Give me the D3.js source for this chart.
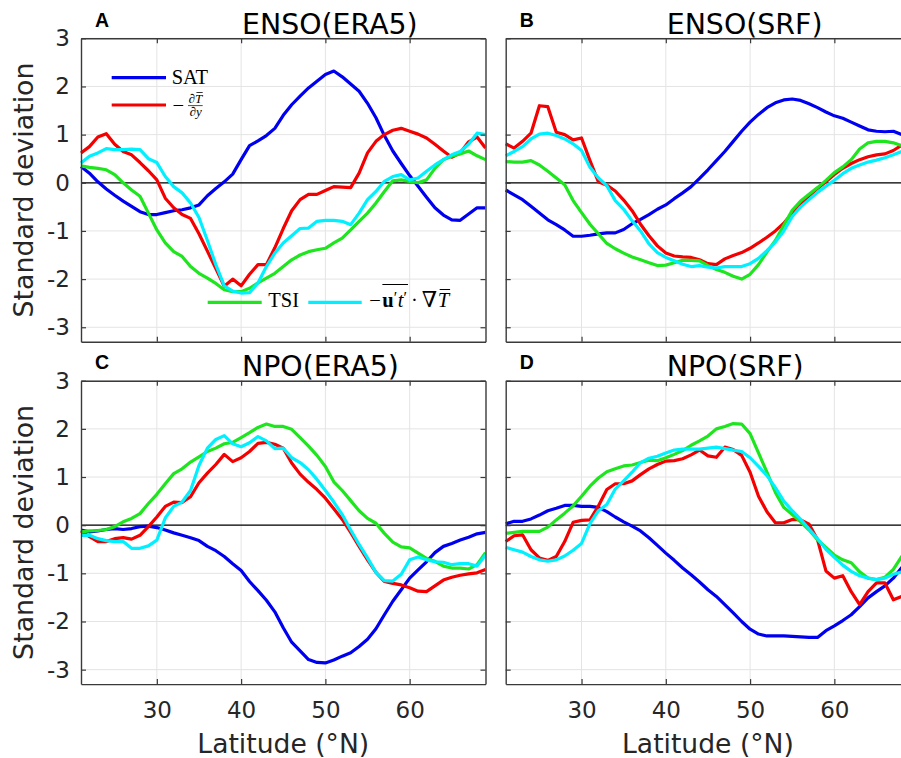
<!DOCTYPE html>
<html><head><meta charset="utf-8">
<script src="https://cdn.jsdelivr.net/npm/d3@7"></script>
<style>body{margin:0;background:#fff} svg{display:block}</style>
</head><body>
<svg id="chart" width="901" height="758"></svg>
<script>
// ---------- DATA ----------
const latitudes = [21,22,23,24,25,26,27,28,29,30,31,32,33,34,35,36,37,38,39,40,41,42,43,44,45,46,47,48,49,50,51,52,53,54,55,56,57,58,59,60,61,62,63,64,65,66,67,68,69];
const xTicks = [30,40,50,60];
const yTicks = [-3,-2,-1,0,1,2,3];
const seriesNames = ["SAT","-dT/dy","TSI","-u't'.gradT"];

// Panel A: ENSO(ERA5)
const ensoEra5SAT  = [0.34,0.2,0.02,-0.13,-0.26,-0.38,-0.49,-0.6,-0.66,-0.66,-0.62,-0.58,-0.56,-0.52,-0.46,-0.27,-0.12,0.02,0.18,0.48,0.77,0.87,0.98,1.13,1.4,1.62,1.8,1.97,2.11,2.25,2.32,2.2,2.05,1.9,1.65,1.35,0.98,0.66,0.4,0.15,-0.07,-0.3,-0.52,-0.67,-0.77,-0.78,-0.65,-0.52,-0.52];
const ensoEra5Grad = [0.62,0.75,0.95,1.02,0.8,0.65,0.58,0.42,0.25,0.06,-0.32,-0.52,-0.66,-0.74,-1.06,-1.42,-1.78,-2.15,-2.0,-2.14,-1.9,-1.7,-1.7,-1.35,-0.95,-0.58,-0.35,-0.24,-0.24,-0.16,-0.08,-0.09,-0.1,0.2,0.62,0.86,1.0,1.09,1.13,1.07,1.01,0.93,0.8,0.66,0.53,0.62,0.85,0.95,0.72];
const ensoEra5TSI  = [0.35,0.32,0.3,0.27,0.17,0.0,-0.15,-0.28,-0.63,-0.98,-1.25,-1.43,-1.53,-1.74,-1.88,-1.98,-2.09,-2.22,-2.26,-2.26,-2.19,-2.08,-1.98,-1.88,-1.74,-1.6,-1.5,-1.43,-1.39,-1.36,-1.25,-1.15,-0.98,-0.8,-0.63,-0.42,-0.18,0.04,0.06,0.03,0.0,0.06,0.3,0.48,0.55,0.6,0.66,0.56,0.48];
const ensoEra5Adv  = [0.41,0.55,0.62,0.71,0.69,0.69,0.7,0.69,0.5,0.42,0.13,-0.08,-0.21,-0.42,-0.72,-1.2,-1.7,-2.14,-2.25,-2.29,-2.28,-2.08,-1.74,-1.46,-1.25,-1.1,-0.95,-0.94,-0.8,-0.78,-0.78,-0.8,-0.87,-0.63,-0.35,-0.18,0.03,0.13,0.17,0.06,0.1,0.24,0.37,0.48,0.58,0.65,0.8,1.03,1.0];

// Panel B: ENSO(SRF)
const ensoSrfSAT  = [-0.15,-0.25,-0.35,-0.49,-0.63,-0.77,-0.87,-0.98,-1.11,-1.11,-1.09,-1.06,-1.04,-1.04,-0.97,-0.85,-0.76,-0.66,-0.55,-0.46,-0.33,-0.21,-0.08,0.09,0.27,0.46,0.65,0.86,1.07,1.26,1.42,1.56,1.66,1.72,1.74,1.71,1.64,1.56,1.47,1.39,1.34,1.26,1.18,1.1,1.07,1.06,1.07,1.0,0.98];
const ensoSrfGrad = [0.81,0.72,0.86,1.03,1.6,1.58,1.05,1.0,0.89,0.93,0.46,0.02,-0.05,-0.17,-0.36,-0.58,-0.86,-1.1,-1.31,-1.46,-1.52,-1.54,-1.55,-1.6,-1.68,-1.7,-1.58,-1.51,-1.45,-1.36,-1.25,-1.13,-1.0,-0.84,-0.63,-0.43,-0.27,-0.12,0.02,0.17,0.3,0.4,0.48,0.54,0.58,0.6,0.67,0.78,0.85];
const ensoSrfTSI  = [0.44,0.43,0.43,0.46,0.37,0.24,0.1,-0.04,-0.37,-0.62,-0.86,-1.06,-1.26,-1.37,-1.46,-1.54,-1.6,-1.66,-1.72,-1.71,-1.66,-1.61,-1.61,-1.62,-1.72,-1.8,-1.86,-1.94,-2.0,-1.9,-1.7,-1.44,-1.2,-0.88,-0.57,-0.38,-0.24,-0.1,0.05,0.21,0.33,0.48,0.7,0.83,0.86,0.86,0.83,0.77,0.7];
const ensoSrfAdv  = [0.56,0.65,0.75,0.91,1.01,1.03,0.98,0.91,0.81,0.67,0.32,0.1,-0.06,-0.37,-0.55,-0.79,-1.0,-1.27,-1.45,-1.55,-1.62,-1.69,-1.74,-1.72,-1.75,-1.77,-1.74,-1.74,-1.74,-1.68,-1.57,-1.41,-1.23,-1.0,-0.7,-0.5,-0.35,-0.2,-0.07,0.05,0.19,0.3,0.37,0.43,0.47,0.52,0.58,0.65,0.7];

// Panel C: NPO(ERA5)
const npoEra5SAT  = [-0.1,-0.14,-0.12,-0.09,-0.07,-0.09,-0.07,-0.03,-0.02,-0.05,-0.1,-0.16,-0.21,-0.26,-0.32,-0.44,-0.53,-0.65,-0.8,-0.94,-1.17,-1.36,-1.56,-1.8,-2.13,-2.43,-2.61,-2.79,-2.85,-2.86,-2.8,-2.72,-2.65,-2.52,-2.37,-2.15,-1.86,-1.58,-1.34,-1.1,-0.93,-0.76,-0.57,-0.44,-0.38,-0.31,-0.25,-0.18,-0.15];
const npoEra5Grad = [-0.12,-0.24,-0.34,-0.34,-0.28,-0.26,-0.29,-0.21,-0.03,0.17,0.39,0.48,0.47,0.59,0.88,1.08,1.26,1.47,1.32,1.4,1.53,1.7,1.72,1.68,1.6,1.29,1.06,0.89,0.74,0.56,0.34,0.12,-0.15,-0.44,-0.72,-0.98,-1.17,-1.21,-1.24,-1.3,-1.37,-1.38,-1.26,-1.14,-1.08,-1.04,-1.01,-0.99,-0.92];
const npoEra5TSI  = [-0.14,-0.12,-0.11,-0.09,-0.03,0.07,0.14,0.24,0.45,0.64,0.86,1.07,1.17,1.31,1.42,1.53,1.6,1.69,1.72,1.82,1.92,2.03,2.1,2.05,2.05,1.99,1.82,1.64,1.45,1.22,0.9,0.72,0.51,0.3,0.14,0.04,-0.17,-0.35,-0.45,-0.47,-0.58,-0.69,-0.75,-0.85,-0.89,-0.89,-0.91,-0.82,-0.57];
const npoEra5Adv  = [-0.21,-0.21,-0.28,-0.32,-0.34,-0.34,-0.48,-0.48,-0.43,-0.31,0.15,0.39,0.48,0.72,1.24,1.6,1.78,1.86,1.69,1.63,1.71,1.84,1.75,1.59,1.6,1.4,1.3,1.15,0.95,0.72,0.48,0.22,-0.1,-0.4,-0.68,-0.98,-1.15,-1.16,-1.02,-0.72,-0.66,-0.72,-0.76,-0.77,-0.82,-0.8,-0.8,-0.85,-0.62];

// Panel D: NPO(SRF)
const npoSrfSAT  = [0.03,0.08,0.08,0.13,0.21,0.3,0.35,0.41,0.41,0.39,0.39,0.37,0.28,0.17,0.07,-0.02,-0.12,-0.26,-0.42,-0.58,-0.73,-0.89,-1.03,-1.18,-1.34,-1.48,-1.65,-1.82,-2.0,-2.16,-2.26,-2.3,-2.3,-2.3,-2.31,-2.32,-2.33,-2.33,-2.19,-2.09,-1.98,-1.86,-1.69,-1.51,-1.38,-1.26,-1.1,-0.88,-0.72];
const npoSrfGrad = [-0.34,-0.22,-0.2,-0.51,-0.68,-0.73,-0.65,-0.34,0.06,0.1,0.11,0.4,0.74,0.86,0.86,0.92,1.05,1.17,1.26,1.33,1.34,1.38,1.46,1.56,1.44,1.41,1.62,1.57,1.45,1.1,0.6,0.28,0.05,0.05,0.12,0.11,0.02,-0.3,-0.95,-1.1,-1.05,-1.38,-1.65,-1.38,-1.2,-1.2,-1.55,-1.48,-1.4];
const npoSrfTSI  = [-0.17,-0.15,-0.13,-0.13,-0.13,-0.04,0.11,0.25,0.4,0.6,0.81,0.98,1.11,1.17,1.23,1.25,1.3,1.35,1.34,1.4,1.47,1.55,1.66,1.75,1.85,2.0,2.05,2.11,2.1,1.9,1.5,1.1,0.68,0.37,0.22,0.07,-0.1,-0.3,-0.46,-0.62,-0.72,-0.78,-0.97,-1.1,-1.13,-1.08,-0.92,-0.65,-0.45];
const npoSrfAdv  = [-0.46,-0.51,-0.56,-0.65,-0.72,-0.75,-0.72,-0.64,-0.52,-0.38,0.03,0.3,0.43,0.75,0.92,1.1,1.3,1.39,1.43,1.5,1.56,1.58,1.58,1.58,1.6,1.62,1.59,1.56,1.53,1.4,1.22,1.03,0.78,0.5,0.3,0.12,-0.08,-0.28,-0.5,-0.67,-0.83,-0.96,-1.05,-1.1,-1.13,-1.1,-1.02,-0.97,-0.9];

// ---------- LAYOUT ----------
const seriesColors = ["#0000f0", "#f50000", "#1ee61e", "#00f0ff"];
const W = 404.5, H = 303.4;
const panels = [
  {label:"A", title:"ENSO(ERA5)", left:81,    top:38.3,  data:[ensoEra5SAT,ensoEra5Grad,ensoEra5TSI,ensoEra5Adv], yLab:true,  xLab:false},
  {label:"B", title:"ENSO(SRF)",  left:505.7, top:38.3,  data:[ensoSrfSAT,ensoSrfGrad,ensoSrfTSI,ensoSrfAdv],     yLab:false, xLab:false},
  {label:"C", title:"NPO(ERA5)",  left:81,    top:380.7, data:[npoEra5SAT,npoEra5Grad,npoEra5TSI,npoEra5Adv],     yLab:true,  xLab:true},
  {label:"D", title:"NPO(SRF)",   left:505.7, top:380.7, data:[npoSrfSAT,npoSrfGrad,npoSrfTSI,npoSrfAdv],         yLab:false, xLab:true}
];

const svg = d3.select("#chart");
const SANS = "'DejaVu Sans', sans-serif";
const SERIF = "'Liberation Serif', 'DejaVu Serif', serif";
const AX = "#3a3a3a";

panels.forEach((p, pi) => {
  const x = d3.scaleLinear().domain([21, 69]).range([0, W]);
  const y = d3.scaleLinear().domain([-3.3, 3]).range([H, 0]);
  const g = svg.append("g").attr("transform", `translate(${p.left},${p.top})`);

  g.append("clipPath").attr("id", "clip" + pi)
    .append("rect").attr("x", -2).attr("y", 0).attr("width", W + 2).attr("height", H);

  // grid
  g.append("g").selectAll("line").data(xTicks).join("line")
    .attr("x1", d => x(d)).attr("x2", d => x(d)).attr("y1", 0).attr("y2", H)
    .attr("stroke", "#e4e4e4").attr("stroke-width", 1);
  g.append("g").selectAll("line").data(yTicks).join("line")
    .attr("x1", 0).attr("x2", W).attr("y1", d => y(d)).attr("y2", d => y(d))
    .attr("stroke", "#e4e4e4").attr("stroke-width", 1);

  // zero line
  g.append("line").attr("x1", 0).attr("x2", W).attr("y1", y(0)).attr("y2", y(0))
    .attr("stroke", "#000").attr("stroke-width", 1.2);

  // series
  const line = d3.line().x((d, i) => x(latitudes[i])).y(d => y(d));
  const sg = g.append("g").attr("clip-path", `url(#clip${pi})`);
  p.data.forEach((arr, k) => {
    sg.append("path").attr("d", line(arr)).attr("fill", "none")
      .attr("stroke", seriesColors[k]).attr("stroke-width", 3.2)
      .attr("stroke-linejoin", "round").attr("stroke-linecap", "butt");
  });

  // axes
  const styleAxis = sel => {
    sel.select(".domain").attr("stroke", AX).attr("stroke-width", 1.4);
    sel.selectAll(".tick line").attr("stroke", AX).attr("stroke-width", 1.2);
    sel.selectAll("text").attr("fill", "#262626").attr("font-family", SANS).attr("font-size", 23);
  };
  const bottom = g.append("g").attr("transform", `translate(0,${H})`)
    .call(d3.axisBottom(x).tickValues(xTicks).tickSizeInner(-5).tickSizeOuter(0).tickPadding(17.5)
      .tickFormat(p.xLab ? (d => String(d)) : () => ""));
  styleAxis(bottom);
  const top = g.append("g")
    .call(d3.axisTop(x).tickValues(xTicks).tickSizeInner(-5).tickSizeOuter(0).tickFormat(() => ""));
  styleAxis(top);
  const left = g.append("g")
    .call(d3.axisLeft(y).tickValues(yTicks).tickSizeInner(-5).tickSizeOuter(0).tickPadding(11)
      .tickFormat(p.yLab ? (d => String(d)) : () => ""));
  styleAxis(left);
  const right = g.append("g").attr("transform", `translate(${W},0)`)
    .call(d3.axisRight(y).tickValues(yTicks).tickSizeInner(-5).tickSizeOuter(0).tickFormat(() => ""));
  styleAxis(right);

  // title
  svg.append("text").attr("x", p.left + 161).attr("y", p.top - 4.3)
    .attr("font-family", SANS).attr("font-size", 28.4).attr("fill", "#000")
    .text(p.title);
  // panel letter
  svg.append("text").attr("x", p.left + 14).attr("y", p.top - 11.6)
    .attr("font-family", "'Liberation Sans', Arial, sans-serif").attr("font-weight", "bold")
    .attr("font-size", 19.5).attr("fill", "#000").text(p.label);

  if (p.yLab) {
    svg.append("text")
      .attr("transform", `translate(33,${p.top + H / 2}) rotate(-90)`)
      .attr("text-anchor", "middle").attr("font-family", SANS).attr("font-size", 26.8)
      .attr("fill", "#262626").text("Standard deviation");
  }
  if (p.xLab) {
    svg.append("text").attr("x", p.left + W / 2).attr("y", 752.7)
      .attr("text-anchor", "middle").attr("font-family", SANS).attr("font-size", 26.6)
      .attr("fill", "#262626").text("Latitude (°N)");
  }
});

// ---------- LEGEND (panel A) ----------
const lg = svg.append("g");
function legLine(x1, x2, yy, color) {
  lg.append("line").attr("x1", x1).attr("x2", x2).attr("y1", yy).attr("y2", yy)
    .attr("stroke", color).attr("stroke-width", 3.2);
}
function seq(x0, base, pieces) {
  let cx = x0;
  pieces.forEach(pc => {
    cx += pc.pre || 0;
    const t = lg.append("text").attr("x", cx).attr("y", base + (pc.dy || 0))
      .attr("font-family", SERIF).attr("font-size", pc.size || 20.5)
      .attr("font-style", pc.italic ? "italic" : "normal")
      .attr("font-weight", pc.bold ? "bold" : "normal")
      .attr("fill", "#000").text(pc.t);
    const w = t.node().getComputedTextLength();
    pc.x0 = cx; pc.x1 = cx + w;
    cx += w + (pc.post || 0);
  });
  return pieces;
}

legLine(111.7, 166, 77.7, seriesColors[0]);
seq(171.7, 84, [{t: "SAT"}]);

legLine(111.7, 166, 105, seriesColors[1]);
seq(172.5, 112, [{t: "\u2212"}]);
const num = seq(188.5, 102.5, [{t: "\u2202", size: 13, italic: true}, {t: "T", size: 13, italic: true}]);
lg.append("line").attr("x1", num[1].x0 + 1.5).attr("x2", num[1].x1 + 0.5)
  .attr("y1", 92.5).attr("y2", 92.5).attr("stroke", "#000").attr("stroke-width", 0.8);
const fracEnd = num[1].x1 + 0.5;
lg.append("line").attr("x1", 188).attr("x2", fracEnd).attr("y1", 105.6).attr("y2", 105.6)
  .attr("stroke", "#000").attr("stroke-width", 0.7);
seq(189.5, 116, [{t: "\u2202", size: 13, italic: true}, {t: "y", size: 13, italic: true}]);

legLine(207.7, 261.7, 302.3, seriesColors[2]);
seq(268.3, 306.8, [{t: "TSI"}]);

legLine(308.3, 361.7, 302.3, seriesColors[3]);
const adv = seq(369.3, 306.8, [
  {t: "\u2212", post: 1.5},
  {t: "u", bold: true},
  {t: "\u2032", size: 16, dy: -4},
  {t: "t", italic: true, pre: 0.5},
  {t: "\u2032", size: 16, dy: -4, post: 4},
  {t: "\u00B7", post: 4},
  {t: "\u2207", size: 22, post: 0.5},
  {t: "T", italic: true}
]);
lg.append("line").attr("x1", adv[1].x0).attr("x2", adv[4].x1 + 1)
  .attr("y1", 284.5).attr("y2", 284.5).attr("stroke", "#000").attr("stroke-width", 1);
lg.append("line").attr("x1", adv[7].x0 + 2).attr("x2", adv[7].x1 + 1)
  .attr("y1", 289.5).attr("y2", 289.5).attr("stroke", "#000").attr("stroke-width", 1);
</script>
</body></html>
